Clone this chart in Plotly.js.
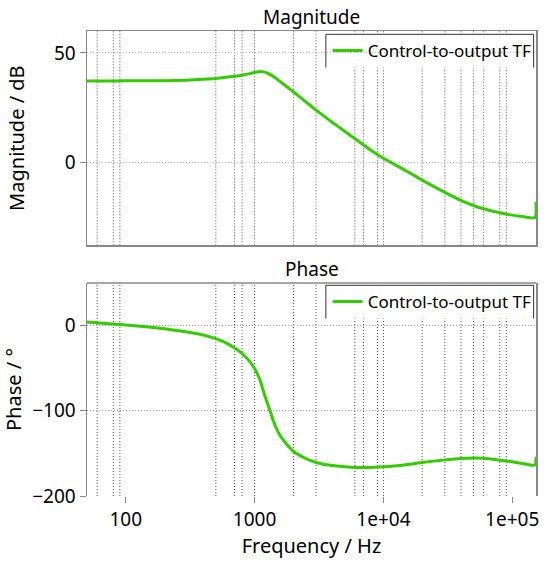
<!DOCTYPE html>
<html>
<head>
<meta charset="utf-8">
<script src="https://cdn.plot.ly/plotly-3.0.1.min.js"></script>
<style>html,body{margin:0;padding:0;background:#fff;}#chart{width:550px;height:564px;}</style>
</head>
<body>
<div id="chart"></div>
<script>
// ---- data ----
const magFreq = [50, 70, 100, 150, 200, 300, 400, 500, 600, 700, 800, 900, 1000, 1100, 1200, 1300, 1400, 1500, 1600, 1800, 2000, 2500, 3000, 4000, 5000, 6000, 8000, 10000, 15000, 20000, 30000, 40000, 50000, 60000, 80000, 100000, 120000, 150000, 153000];
const magDb   = [37.1, 37.1, 37.2, 37.2, 37.3, 37.5, 37.9, 38.3, 38.8, 39.3, 39.8, 40.4, 41.0, 41.5, 41.2, 40.4, 39.2, 37.9, 36.6, 34.3, 32.2, 27.6, 23.8, 18.3, 14.2, 10.8, 5.5, 1.8, -3.9, -8.2, -13.8, -17.5, -19.8, -21.3, -23.1, -24.2, -24.8, -25.3, -18.2];

const phFreq = [50, 70, 90, 100, 150, 200, 250, 300, 400, 500, 600, 700, 800, 900, 1000, 1100, 1170, 1250, 1320, 1400, 1500, 1600, 1800, 2000, 2500, 3000, 4000, 6000, 8000, 10000, 15000, 20000, 30000, 40000, 50000, 60000, 80000, 100000, 120000, 150000, 153000];
const phDeg  = [4.2, 2.5, 1.2, 0.8, -1.7, -3.6, -5.8, -7.6, -11.0, -15.2, -20.2, -26.3, -32.8, -40.5, -50.4, -63.5, -77.0, -90.0, -100.0, -112.0, -123.0, -130.5, -140.5, -147.5, -156.0, -160.6, -164.3, -166.4, -166.4, -165.8, -163.2, -160.6, -157.6, -155.9, -155.3, -155.6, -157.9, -159.9, -161.8, -163.8, -154.0];

const seriesName = "Control-to-output TF";
const xTickVals = [100, 1000, 10000, 100000];
const xTickText = ["100", "1000", "1e+04", "1e+05"];
const magTickVals = [0, 50];
const phTickVals = [-200, -100, 0];
// vertical dotted grid lines visible in the reference
const gridFreqs = [60, 80, 90, 500, 700, 800, 1000, 2000, 3000, 6000, 7000, 9000, 10000, 20000, 30000, 40000, 50000, 60000, 80000, 90000];

// ---- styling ----
const GREEN = "#33cc00";
const FONT = "Noto Sans, Open Sans, sans-serif";
const xRange = [Math.log10(50), Math.log10(153000)];

const traces = [
  {x: magFreq, y: magDb, type: "scatter", mode: "lines", name: seriesName,
   line: {color: GREEN, width: 3, shape: "spline", smoothing: 0.6}, xaxis: "x", yaxis: "y", legend: "legend"},
  {x: phFreq, y: phDeg, type: "scatter", mode: "lines", name: seriesName,
   line: {color: GREEN, width: 3, shape: "spline", smoothing: 0.6}, xaxis: "x2", yaxis: "y2", legend: "legend2"}
];

const shapes = [];
[["x", "y"], ["x2", "y2"]].forEach(([xr, yr]) => {
  gridFreqs.forEach(f => shapes.push({type: "line", layer: "below", xref: xr, yref: yr + " domain",
    x0: f, x1: f, y0: 0, y1: 1, line: {color: "#555", width: 1, dash: "1px,2px"}}));
});
// legend boxes (white background, borders on left/top/right only)
function legendBox(yTop, yBot) {
  shapes.push({type: "rect", layer: "below", xref: "paper", yref: "paper", x0: 0.532, x1: 0.9947, y0: yBot, y1: yTop,
    fillcolor: "#fff", line: {width: 0}});
  shapes.push({type: "line", layer: "above", xref: "paper", yref: "paper", x0: 0.532, x1: 0.532, y0: yBot, y1: yTop, line: {color: "#333", width: 1}});
  shapes.push({type: "line", layer: "above", xref: "paper", yref: "paper", x0: 0.9947, x1: 0.9947, y0: yBot, y1: yTop, line: {color: "#333", width: 1}});
  shapes.push({type: "line", layer: "above", xref: "paper", yref: "paper", x0: 0.532, x1: 0.9947, y0: yTop, y1: yTop, line: {color: "#333", width: 1}});
}
legendBox(0.9929, 0.9213);
legendBox(0.4531, 0.3815);
// top frame line of the phase panel
shapes.push({type: "line", layer: "above", xref: "x2 domain", yref: "y2 domain", x0: 0, x1: 1, y0: 1, y1: 1, line: {color: "#888", width: 1.5}});

const tickFont = {family: FONT, size: 19, color: "#000"};
const titleFont = {family: FONT, size: 20, color: "#000"};

const layout = {
  width: 550, height: 564,
  margin: {l: 86.7, r: 14.3, t: 30.7, b: 68.3},
  paper_bgcolor: "#fff", plot_bgcolor: "#fff",
  font: {family: FONT, color: "#000"},
  showlegend: true,
  xaxis: {type: "log", range: xRange, domain: [0, 1], anchor: "y", showgrid: false, zeroline: false,
    tickvals: xTickVals, ticktext: xTickText, showticklabels: false, ticks: "",
    showline: true, mirror: true, linecolor: "#888", linewidth: 1.5},
  yaxis: {range: [-38, 60], domain: [0.5391, 1], anchor: "x", tickvals: magTickVals,
    ticks: "outside", ticklen: 6, tickcolor: "#888", tickfont: tickFont,
    showgrid: true, gridcolor: "#bbb", griddash: "1px,2px", zeroline: false,
    showline: true, mirror: true, linecolor: "#888", linewidth: 1.5,
    title: {text: "Magnitude / dB", font: titleFont, standoff: 24}},
  xaxis2: {type: "log", range: xRange, domain: [0, 1], anchor: "y2", showgrid: false, zeroline: false,
    tickvals: xTickVals, ticktext: xTickText, ticks: "outside", ticklen: 6, tickcolor: "#888",
    tickfont: tickFont, showline: false,
    title: {text: "Frequency / Hz", font: titleFont, standoff: 6}},
  yaxis2: {range: [-200, 50], domain: [0, 0.458], anchor: "x2", tickvals: phTickVals,
    ticks: "outside", ticklen: 6, tickcolor: "#888", tickfont: tickFont,
    showgrid: true, gridcolor: "#999", griddash: "1px,2px", zeroline: false,
    showline: true, mirror: true, linecolor: "#888", linewidth: 1.5,
    title: {text: "Phase / °", font: titleFont, standoff: 8}},
  legend: {x: 0.536, xanchor: "left", y: 0.9571, yanchor: "middle", bgcolor: "rgba(0,0,0,0)", borderwidth: 0,
    font: {family: FONT, size: 17, color: "#000"}, itemwidth: 30},
  legend2: {x: 0.536, xanchor: "left", y: 0.4173, yanchor: "middle", bgcolor: "rgba(0,0,0,0)", borderwidth: 0,
    font: {family: FONT, size: 17, color: "#000"}, itemwidth: 30},
  annotations: [
    {text: "Magnitude", xref: "paper", yref: "paper", x: 0.5, y: 1.0295, xanchor: "center", yanchor: "middle",
     showarrow: false, font: {family: FONT, size: 19, color: "#000"}},
    {text: "Phase", xref: "paper", yref: "paper", x: 0.5, y: 0.4888, xanchor: "center", yanchor: "middle",
     showarrow: false, font: {family: FONT, size: 19, color: "#000"}}
  ],
  shapes: shapes
};

Plotly.newPlot("chart", traces, layout, {displayModeBar: false, staticPlot: true});
</script>
</body>
</html>
